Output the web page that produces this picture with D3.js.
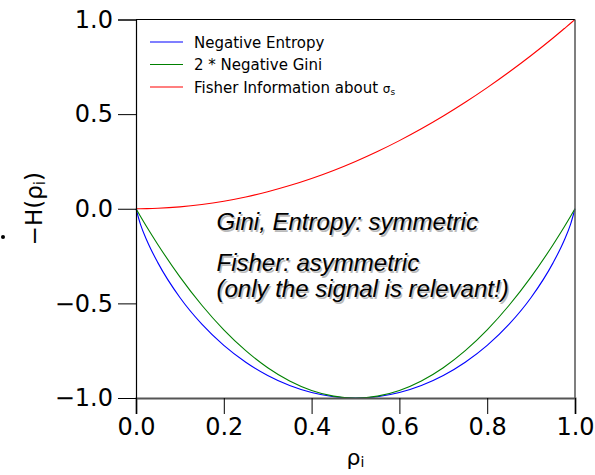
<!DOCTYPE html>
<html><head><meta charset="utf-8">
<script src="https://cdn.jsdelivr.net/npm/d3@7"></script>
<style>body{margin:0;background:#fff;}svg{display:block;}</style>
</head><body>
<svg id="c" width="595" height="475"></svg>
<script>
// rho_i sample positions
const rho = [0, 0.01, 0.025, 0.05, 0.1, 0.15, 0.2, 0.25, 0.3, 0.35, 0.4, 0.45, 0.5,
             0.55, 0.6, 0.65, 0.7, 0.75, 0.8, 0.85, 0.9, 0.95, 0.975, 0.99, 1];
const negEntropy = [0, -0.081, -0.169, -0.286, -0.469, -0.610, -0.722, -0.811, -0.881, -0.934, -0.971, -0.993, -1,
                    -0.993, -0.971, -0.934, -0.881, -0.811, -0.722, -0.610, -0.469, -0.286, -0.169, -0.081, 0];
const negGini2 = [0, -0.040, -0.098, -0.19, -0.36, -0.51, -0.64, -0.75, -0.84, -0.91, -0.96, -0.99, -1,
                  -0.99, -0.96, -0.91, -0.84, -0.75, -0.64, -0.51, -0.36, -0.19, -0.098, -0.040, 0];
const fisher = [0, 0.0001, 0.0006, 0.0025, 0.01, 0.0225, 0.04, 0.0625, 0.09, 0.1225, 0.16, 0.2025, 0.25,
                0.3025, 0.36, 0.4225, 0.49, 0.5625, 0.64, 0.7225, 0.81, 0.9025, 0.951, 0.980, 1];
const seriesNames = ["Negative Entropy", "2 * Negative Gini", "Fisher Information about "];
const seriesColors = ["#0000ff", "#008000", "#ff0000"];
const xTicks = [0, 0.2, 0.4, 0.6, 0.8, 1.0];
const yTicks = [-1, -0.5, 0, 0.5, 1.0];
const notes = ["Gini, Entropy: symmetric", "Fisher: asymmetric", "(only the signal is relevant!)"];

const svg = d3.select("#c");
const L = 136, R = 575, T = 19.5, B = 398;
const x = d3.scaleLinear().domain([0, 1]).range([L, R]);
const y = d3.scaleLinear().domain([-1, 1]).range([B, T]);
const font = "DejaVu Sans, sans-serif";

// lines
const allSeries = [negEntropy, negGini2, fisher];
const line = d3.line().x((d, i) => x(rho[i])).y(d => y(d)).curve(d3.curveMonotoneX);
allSeries.forEach((s, k) => {
  svg.append("path").datum(s).attr("d", line).attr("fill", "none")
    .attr("stroke", seriesColors[k]).attr("stroke-width", 1.1);
});

// frame
svg.append("line").attr("x1", L).attr("x2", R).attr("y1", T).attr("y2", T).attr("stroke", "#000").attr("stroke-width", 1);
svg.append("line").attr("x1", R).attr("x2", R).attr("y1", T).attr("y2", B).attr("stroke", "#555").attr("stroke-width", 1.5);

// axes
const xAxis = d3.axisBottom(x).tickValues(xTicks).tickFormat(d3.format(".1f")).tickSize(16).tickPadding(4);
const gx = svg.append("g").attr("transform", `translate(0,${B})`).call(xAxis);
gx.select(".domain").attr("stroke", "#555").attr("stroke-width", 2);
gx.selectAll(".tick line").attr("stroke", "#000").attr("stroke-width", 1);
gx.selectAll(".tick text").attr("font-family", font).attr("font-size", 24).attr("fill", "#000");

const yAxis = d3.axisLeft(y).tickValues(yTicks)
  .tickFormat(d => (d < 0 ? "\u2212" : "") + d3.format(".1f")(Math.abs(d))).tickSize(18).tickPadding(5);
const gy = svg.append("g").attr("transform", `translate(${L},0)`).call(yAxis);
gy.select(".domain").attr("stroke", "#000").attr("stroke-width", 1.2);
gy.selectAll(".tick line").attr("stroke", "#000").attr("stroke-width", 1);
gy.selectAll(".tick text").attr("font-family", font).attr("font-size", 24).attr("fill", "#000");

// axis labels
svg.append("text").attr("x", x(0.5)).attr("y", 465).attr("text-anchor", "middle")
  .attr("font-family", font).attr("font-size", 22).attr("fill", "#000")
  .html('ρ<tspan font-size="14" dy="2">i</tspan>');
svg.append("text").attr("transform", `translate(42,${(T + B) / 2}) rotate(-90)`).attr("text-anchor", "middle")
  .attr("font-family", font).attr("font-size", 23).attr("fill", "#000")
  .html('\u2212H(ρ<tspan font-size="15" dy="3">i</tspan><tspan dy="-3">)</tspan>');
svg.append("circle").attr("cx", 3).attr("cy", 237).attr("r", 2).attr("fill", "#000");

// legend
const lg = svg.append("g");
seriesNames.forEach((n, k) => {
  const yy = 42 + k * 22.5;
  lg.append("line").attr("x1", 150).attr("x2", 183).attr("y1", yy).attr("y2", yy)
    .attr("stroke", seriesColors[k]).attr("stroke-width", 1.1);
  const t = lg.append("text").attr("x", 194).attr("y", yy + 5.5).attr("font-family", font)
    .attr("font-size", 15).attr("fill", "#000").text(n);
  if (k === 2) {
    t.append("tspan").text("σ").attr("font-size", 12);
    t.append("tspan").text("s").attr("font-size", 9).attr("dy", 2);
  }
});

// annotation with drop shadow
const noteY = [230, 271, 297];
const nf = "Liberation Sans, Arial, sans-serif";
notes.forEach((n, k) => {
  svg.append("text").attr("x", 218).attr("y", noteY[k] + 1.5).attr("font-family", nf).attr("font-style", "italic")
    .attr("font-size", 24).attr("fill", "#aaa").attr("opacity", 0.8).text(n);
  svg.append("text").attr("x", 216.5).attr("y", noteY[k]).attr("font-family", nf).attr("font-style", "italic")
    .attr("font-size", 24).attr("fill", "#000").text(n);
});
</script>
</body></html>
